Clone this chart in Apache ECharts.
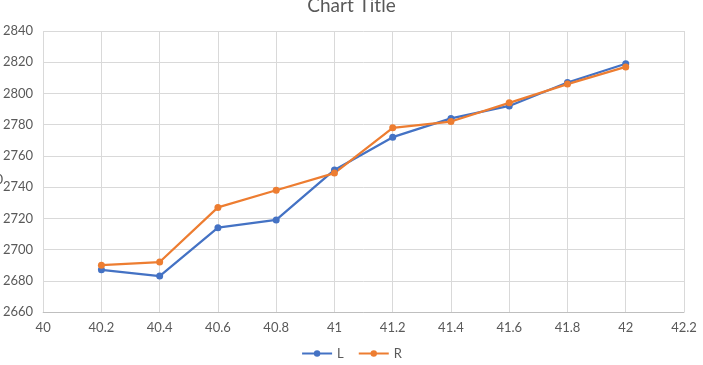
<!DOCTYPE html>
<html><head><meta charset="utf-8">
<script src="https://cdn.jsdelivr.net/npm/echarts@6/dist/echarts.min.js"></script>
<style>html,body{margin:0;padding:0;background:#fff}#c{width:703px;height:365px}</style>
</head><body><div id="c"></div>
<script>
const xValues = [40.2, 40.4, 40.6, 40.8, 41, 41.2, 41.4, 41.6, 41.8, 42];
const seriesL = [2687, 2683, 2714, 2719, 2751, 2772, 2784, 2792, 2807, 2819];
const seriesR = [2690, 2692, 2727, 2738, 2749, 2778, 2782, 2794, 2806, 2817];
const seriesNames = ['L', 'R'];
const title = 'Chart Title';

const font = 'Lato, "Liberation Sans", sans-serif';
const chart = echarts.init(document.getElementById('c'), null, {renderer: 'canvas'});
const mk = (name, ys, color) => ({
  name, type: 'line', data: xValues.map((x, i) => [x, ys[i]]),
  symbol: 'circle', symbolSize: 7, showSymbol: true,
  lineStyle: {color, width: 2.25}, itemStyle: {color},
  animation: false
});
chart.setOption({
  animation: false,
  title: {text: title, left: 'center', top: -9, textStyle: {color: '#595959', fontSize: 19, fontWeight: 'normal', fontFamily: font}},
  legend: {bottom: 0, left: 'center', itemWidth: 30, itemHeight: 8, itemGap: 14,
    textStyle: {color: '#595959', fontSize: 13, fontFamily: font},
    data: seriesNames},
  grid: {left: 40, right: 19, top: 31, bottom: 53, containLabel: false},
  xAxis: {type: 'value', min: 40, max: 42.2, interval: 0.2,
    axisLine: {show: true, lineStyle: {color: '#bfbfbf'}},
    axisTick: {show: false},
    splitLine: {show: true, lineStyle: {color: '#d9d9d9', width: 1}},
    axisLabel: {color: '#595959', fontSize: 13, fontFamily: font, margin: 9,
      formatter: v => String(+v.toFixed(1))}},
  yAxis: {type: 'value', min: 2660, max: 2840, interval: 20,
    axisLine: {show: false}, axisTick: {show: false},
    splitLine: {show: true, lineStyle: {color: '#d9d9d9', width: 1}},
    axisLabel: {color: '#595959', fontSize: 13, fontFamily: font, margin: 10,
      formatter: v => String(v)}},
  graphic: [{type: 'text', left: -5, top: 172, style: {text: '0', fill: '#595959', font: '14px ' + font}}],
  series: [mk(seriesNames[0], seriesL, '#4472C4'), mk(seriesNames[1], seriesR, '#ED7D31')]
});
</script></body></html>
